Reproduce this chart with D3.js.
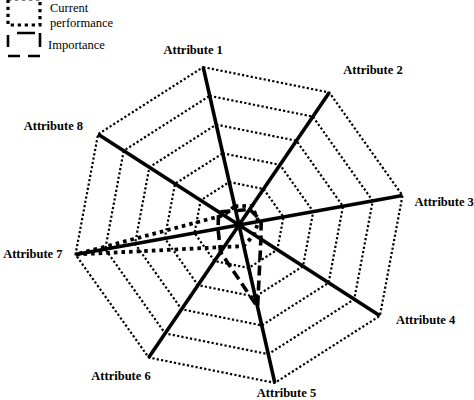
<!DOCTYPE html>
<html>
<head>
<meta charset="utf-8">
<script src="https://cdn.jsdelivr.net/npm/d3@7"></script>
<style>
  html, body { margin: 0; padding: 0; background: #fff; }
  svg { display: block; }
</style>
</head>
<body>
<div id="chart"></div>
<script>
// values (0 = centre, 5 = outer ring)
const attributes = ['Attribute 1', 'Attribute 2', 'Attribute 3', 'Attribute 4',
	'Attribute 5', 'Attribute 6', 'Attribute 7', 'Attribute 8'];
const importance = [0, 0.16, 0.25, 0.36, 2.36, 0.63, 0.21, 0.3];
const currentPerformance = [0.16, 0.3, 0.16, 0.09, 0.24, 0.42, 5, 0.1];
const ringLevels = [1, 2, 3, 4, 5];
const legendCurrent = ['Current', 'performance'];
const legendImportance = ['Importance'];

const width = 474;
const height = 400;
const cx = 239;
const cy = 225;

// the octagon in the picture is a bit skewed, so map the unit octagon with an affine transform
const skew = { a: 163.5, b: 35.8, c: -29.5, d: 157.9 };

const rScale = d3.scaleLinear().domain([0, 5]).range([0.09, 1]);
const angleScale = d3.scaleLinear().domain([0, attributes.length]).range([0, 2 * Math.PI]);

function project(i, v) {
	const t = angleScale(i);
	const u = Math.sin(t);
	const w = -Math.cos(t);
	const f = rScale(v);
	return [cx + f * (skew.a * u + skew.b * w), cy + f * (skew.c * u + skew.d * w)];
}

// label placement relative to the outer vertex
const labelAnchor = ['middle', 'start', 'start', 'start', 'start', 'end', 'end', 'end'];
const labelNudge = [[-10, -13], [14, -18], [12, 10], [16, 8], [-18, 14], [2, 22], [-13, 3], [-15, -4]];

const svg = d3.select('#chart')
	.append('svg')
	.attr('width', width)
	.attr('height', height)
	.style('background-color', '#fff');

const closedLine = d3.line().curve(d3.curveLinearClosed);

// dotted rings
svg.append('g')
	.selectAll('path')
	.data(ringLevels)
	.enter()
	.append('path')
	.attr('d', lvl => closedLine(attributes.map((_, i) => project(i, lvl))))
	.attr('fill', 'none')
	.attr('stroke', '#000')
	.attr('stroke-width', 2.2)
	.attr('stroke-dasharray', '2.2,2.2');

// spokes
svg.append('g')
	.selectAll('line')
	.data(attributes)
	.enter()
	.append('line')
	.attr('x1', cx)
	.attr('y1', cy)
	.attr('x2', (d, i) => project(i, 5)[0])
	.attr('y2', (d, i) => project(i, 5)[1])
	.attr('stroke', '#000')
	.attr('stroke-width', 3.6);

// series
svg.append('path')
	.attr('d', closedLine(importance.map((v, i) => project(i, v))))
	.attr('fill', 'none')
	.attr('stroke', '#000')
	.attr('stroke-width', 3.6)
	.attr('stroke-dasharray', '10,5');

svg.append('path')
	.attr('d', closedLine(currentPerformance.map((v, i) => project(i, v))))
	.attr('fill', 'none')
	.attr('stroke', '#000')
	.attr('stroke-width', 3.8)
	.attr('stroke-dasharray', '3.6,4');

// attribute labels
svg.append('g')
	.selectAll('text')
	.data(attributes)
	.enter()
	.append('text')
	.attr('x', (d, i) => project(i, 5)[0] + labelNudge[i][0])
	.attr('y', (d, i) => project(i, 5)[1] + labelNudge[i][1])
	.attr('text-anchor', (d, i) => labelAnchor[i])
	.style('font-family', '"Liberation Serif", "Times New Roman", serif')
	.style('font-weight', 'bold')
	.style('font-size', '12.5px')
	.text(d => d);

// legend
const legend = svg.append('g').attr('class', 'legend');

legend.append('rect')
	.attr('x', 8)
	.attr('y', -1)
	.attr('width', 32)
	.attr('height', 26)
	.attr('fill', 'none')
	.attr('stroke', '#000')
	.attr('stroke-width', 3.2)
	.attr('stroke-dasharray', '3.3,3.7');

// dashes laid out so the top has one middle dash and the bottom has corner dashes
legend.append('rect')
	.attr('x', 8)
	.attr('y', 33)
	.attr('width', 32)
	.attr('height', 23)
	.attr('fill', 'none')
	.attr('stroke', '#000')
	.attr('stroke-width', 2.6)
	.attr('stroke-dasharray', '0,9,18,5,14,9,12,8,12,9,12,2');

legend.selectAll('.lc')
	.data(legendCurrent)
	.enter()
	.append('text')
	.attr('class', 'lc')
	.attr('x', 50)
	.attr('y', (d, i) => 12 + i * 15)
	.style('font-family', '"Liberation Serif", "Times New Roman", serif')
	.style('font-size', '12.5px')
	.text(d => d);

legend.selectAll('.li')
	.data(legendImportance)
	.enter()
	.append('text')
	.attr('class', 'li')
	.attr('x', 48)
	.attr('y', 49)
	.style('font-family', '"Liberation Serif", "Times New Roman", serif')
	.style('font-size', '12.5px')
	.text(d => d);
</script>
</body>
</html>
